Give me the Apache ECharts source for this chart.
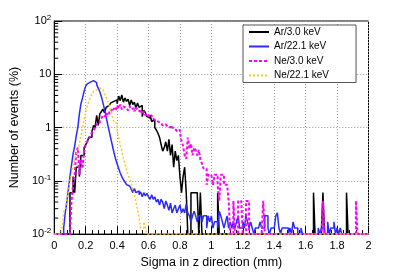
<!DOCTYPE html>
<html>
<head>
<meta charset="utf-8">
<script src="https://cdn.jsdelivr.net/npm/echarts@6/dist/echarts.min.js"></script>
<style>html,body{margin:0;padding:0;background:#fff;}#c{width:399px;height:274px;}</style>
</head>
<body>
<div id="c"></div>
<script>
// ---- data (histograms, bin width 0.01 mm, 200 bins from 0 to 2) ----
const binWidth = 0.01;
const nBins = 200;
const seriesNames = ['Ar/3.0 keV', 'Ar/22.1 keV', 'Ne/3.0 keV', 'Ne/22.1 keV'];
const yTickValues = [0.01, 0.1, 1, 10, 100];

// Ar/3.0 keV : contiguous values from bin 10 (x = 0.10)
const ar3Start = 10;
const ar3Values = [0.06,0.06,0.12,0.06,0.18,0.18,0.12,0.30,0.30,0.42,
  0.48,0.54,0.66,0.66,0.84,1.1,1.0,1.7,1.1,1.8,
  2.0,2.2,1.9,2.4,2.6,2.8,2.9,3.1,3.0,3.3,
  2.8,3.9,3.2,4.1,3.0,3.6,3.1,3.4,2.6,3.3,
  2.7,3.0,2.3,2.9,2.4,2.6,1.6,2.1,1.9,1.6,
  1.5,1.7,1.3,1.4,1.0,0.9,0.78,0.66,0.48,0.36,
  0.42,0.54,0.36,0.60,0.30,0.48,0.18,0.36,0.24,0.30,
  0.12,0.06,0.12,0.18,0.06,0,0,0.06,0.06,0.06,
  0.06,0.06,0,0.06];
const ar3Spikes = [[104,0.06],[165,0.06],[171,0.06],[186,0.06]];

// Ar/22.1 keV : contiguous values from bin 6 (x = 0.06)
const ar22Start = 6;
const ar22Values = [0.013,0.025,0.04,0.07,0.12,0.2,0.32,0.45,0.7,1.0,
  1.8,2.8,3.6,4.8,6.0,6.6,7.1,7.4,7.6,7.4,
  7.0,6.4,5.5,4.7,3.8,2.9,2.2,1.6,1.15,0.85,
  0.62,0.46,0.34,0.26,0.21,0.17,0.14,0.12,0.105,0.095,
  0.085,0.08,0.075,0.07,0.06,0.072,0.06,0.065,0.055,0.062,
  0.05,0.06,0.052,0.058,0.05,0.045,0.055,0.045,0.05,0.04,
  0.045,0.035,0.045,0.04,0.03,0.042,0.035,0.028,0.038,0.025,
  0.03,0.035,0.025,0.03,0.035,0.025,0.03,0.025,0.037,0.025,
  0.022,0.017,0.022,0.027,0.022,0.017,0.022,0.022,0.017,0.022,
  0.022,0.013,0.022,0.017,0.022,0.013,0.017,0.017,0.013,0.027,
  0.022,0.017,0.013,0.017,0.022,0.013,0.017,0.013,0.017,0.013,
  0.017,0.022,0.013,0.013,0.017,0.013,0.022,0.017,0.013,0.017,
  0.013,0,0.013,0.013,0.013,0.017,0.013,0.013,0.022,0.022,
  0.013,0,0.013,0.013,0.013,0.022,0.025,0.013,0,0.013,
  0.013,0.013,0.013,0,0.013,0,0.017,0.013,0.013,0,
  0,0.013];
const ar22Spikes = [[168,0.013],[170,0.013],[171,0.013],[174,0.017],[176,0.013],[177,0.013],[178,0.017],[180,0.013],[182,0.013]];

// Ne/3.0 keV : contiguous values from bin 11 (x = 0.11)
const ne3Start = 11;
const ne3Values = [0.042,0.084,0.13,0.34,0.42,0.13,0.25,0.17,0.38,
  0.46,0.55,0.6,0.72,0.8,0.88,1.0,1.15,1.2,1.35,
  1.5,1.7,1.6,1.85,1.7,2.0,2.2,2.0,2.3,2.1,
  2.6,2.3,2.7,2.2,2.5,2.3,2.4,2.1,2.5,2.2,
  2.3,2.0,2.4,2.1,2.0,2.2,1.8,2.0,1.7,1.8,
  1.6,1.7,1.5,1.4,1.45,1.3,1.35,1.2,1.25,1.1,
  1.15,1.1,1.05,1.0,1.1,1.0,0.95,0.9,0.85,0.9,
  0.8,0.55,0.45,0.3,0.26,0.65,0.4,0.5,0.3,0.42,
  0.38,0.3,0.38,0.25,0.21,0.17,0.17,0.084,0.13,0.13,
  0.13,0.084,0.13,0.13,0.084,0.042,0.13,0.13,0.084,0.084,
  0.084,0.042,0,0,0.042,0,0,0.042,0.042,0.042,
  0,0,0.042,0.042];
const ne3Spikes = [[133,0.042],[171,0.042],[192,0.042]];

// Ne/22.1 keV : contiguous values from bin 5 (x = 0.05)
const ne22Start = 5;
const ne22Values = [0.013,0.026,0.03,0.045,0.06,0.1,0.14,0.2,0.24,0.3,
  0.36,0.5,0.7,1.0,1.4,1.9,2.5,3.1,3.7,4.3,
  4.8,5.1,5.4,5.5,5.4,5.1,4.7,4.2,3.7,3.1,
  2.6,2.1,1.6,1.25,1.2,0.9,0.65,0.48,0.36,0.27,
  0.2,0.16,0.13,0.11,0.09,0.07,0.055,0.04,0.028,0.02,
  0.013,0.013,0.017,0.013];
const ne22Spikes = [];

// ---- build step histograms ----
function buildBins(start, vals, spikes) {
  const arr = new Array(nBins).fill(0);
  vals.forEach((v, i) => { arr[start + i] = v; });
  spikes.forEach(([i, v]) => { arr[i] = v; });
  return arr;
}
function toSteps(arr) {
  const floor = yTickValues[0];
  const pts = arr.map((v, i) => [+(i * binWidth).toFixed(2), Math.max(v, floor)]);
  pts.push([+(nBins * binWidth).toFixed(2), Math.max(arr[nBins - 1], floor)]);
  return pts;
}
const hists = [
  buildBins(ar3Start, ar3Values, ar3Spikes),
  buildBins(ar22Start, ar22Values, ar22Spikes),
  buildBins(ne3Start, ne3Values, ne3Spikes),
  buildBins(ne22Start, ne22Values, ne22Spikes)
];
const colors = ['#000000', '#2b2bff', '#ff00ff', '#ffc820'];
const lineTypes = ['solid', 'solid', [3, 2], [2, 2]];
const widths = [1.5, 1.5, 2, 1.5];

// minor ticks for log axis (2..9 per decade)
const minorVals = [];
for (let k = -2; k < 2; k++) for (let m = 2; m <= 9; m++) minorVals.push(m * Math.pow(10, k));

const FONT = 'Liberation Sans, Arial, Helvetica, sans-serif';
const chart = echarts.init(document.getElementById('c'), null, {renderer: 'canvas'});

const series = hists.map((h, i) => ({
  name: seriesNames[i],
  type: 'line',
  step: 'end',
  symbol: 'none',
  clip: false,
  data: toSteps(h),
  lineStyle: {color: colors[i], width: widths[i], type: lineTypes[i]},
  itemStyle: {color: colors[i]},
  z: 3 + i,
  animation: false
}));
series.push({
  type: 'custom',
  silent: true,
  animation: false,
  z: 10,
  data: minorVals.map(v => [0, v]),
  renderItem: function (params, api) {
    const p = api.coord([0, api.value(1)]);
    return {type: 'line', shape: {x1: p[0], y1: p[1], x2: p[0] + 4, y2: p[1]},
      style: {stroke: '#000', lineWidth: 1}};
  }
});

chart.setOption({
  backgroundColor: '#ffffff',
  animation: false,
  grid: {left: 49.5, right: 30.5, top: 21, bottom: 35, show: true, borderColor: '#000', borderWidth: 1, backgroundColor: 'transparent'},
  legend: {
    data: seriesNames,
    orient: 'vertical',
    left: 243, top: 25,
    backgroundColor: '#fff',
    borderColor: '#555', borderWidth: 1,
    padding: [2, 27, 2, 5],
    itemGap: 4.5,
    itemWidth: 20, itemHeight: 12,
    itemStyle: {opacity: 0},
    textStyle: {fontFamily: FONT, fontSize: 10, color: '#000'}
  },
  xAxis: {
    type: 'value', min: 0, max: 2, interval: 0.2,
    name: 'Sigma in z direction (mm)', nameLocation: 'middle', nameGap: 17,
    nameTextStyle: {fontFamily: FONT, fontSize: 12.5, color: '#000'},
    axisLine: {show: true, lineStyle: {color: '#000', width: 1}},
    axisTick: {show: true, inside: true, length: 8, lineStyle: {color: '#000'}},
    minorTick: {show: true, splitNumber: 5, length: 4, lineStyle: {color: '#000'}},
    axisLabel: {fontFamily: FONT, fontSize: 11, color: '#000', margin: 6},
    splitLine: {show: true, lineStyle: {color: '#999', type: [1, 2], width: 1}}
  },
  yAxis: {
    type: 'log', logBase: 10, min: 0.01, max: 100,
    name: 'Number of events (%)', nameLocation: 'middle', nameGap: 31,
    nameTextStyle: {fontFamily: FONT, fontSize: 12.5, color: '#000'},
    axisLine: {show: true, lineStyle: {color: '#000', width: 1}},
    axisTick: {show: true, inside: true, length: 8, lineStyle: {color: '#000'}},
    axisLabel: {
      fontFamily: FONT, fontSize: 11, color: '#000', margin: 3,
      formatter: function (v) {
        const e = Math.round(Math.log10(v));
        if (e === 0) return '{b|1}';
        if (e === 1) return '{b|10}';
        return '{b|10}{s|' + e + '}';
      },
      rich: {
        b: {fontFamily: FONT, fontSize: 11, color: '#000', lineHeight: 14},
        s: {fontFamily: FONT, fontSize: 8, color: '#000', verticalAlign: 'top', lineHeight: 8}
      }
    },
    splitLine: {show: true, lineStyle: {color: '#999', type: [1, 2], width: 1}}
  },
  series: series
});
</script>
</body>
</html>
